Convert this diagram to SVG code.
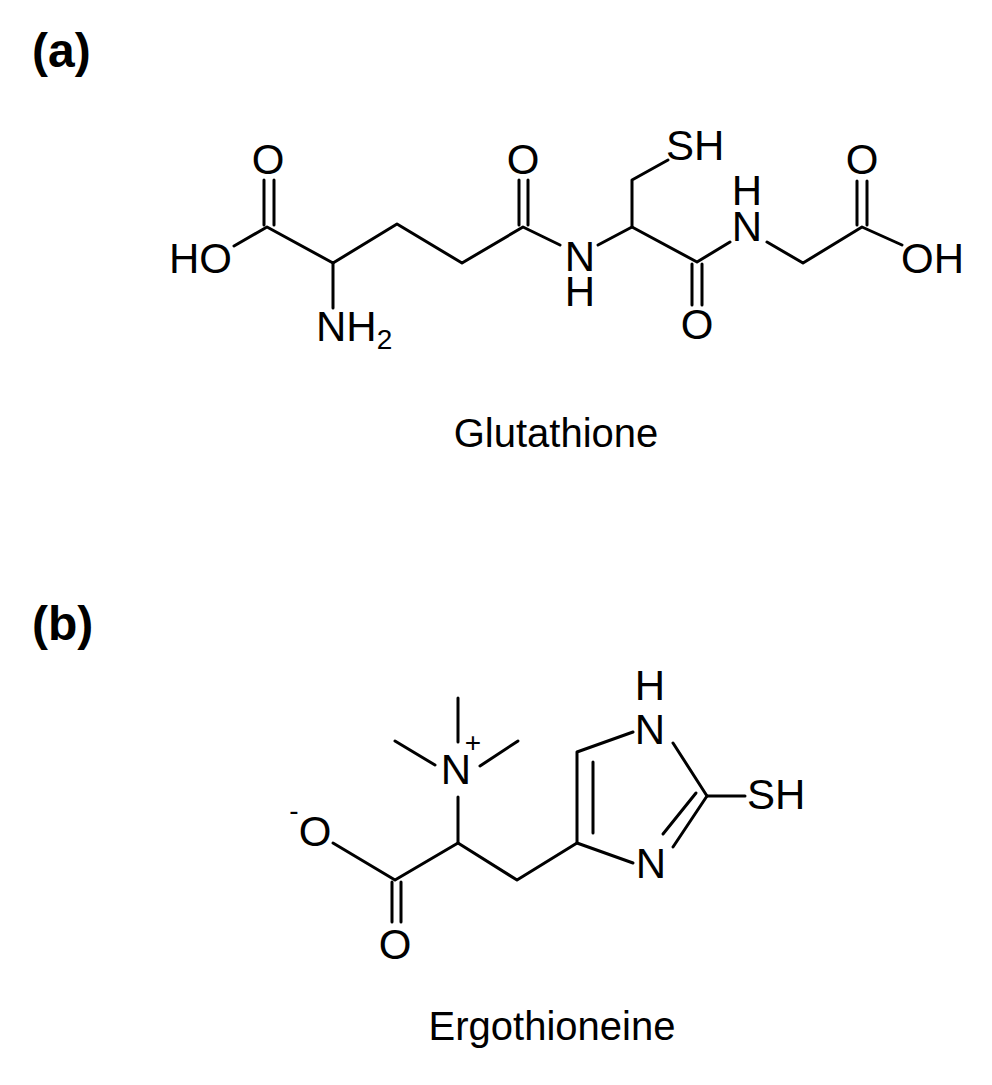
<svg xmlns="http://www.w3.org/2000/svg" width="992" height="1085" viewBox="0 0 992 1085">
<style>
.b{stroke:#000;stroke-width:3;fill:none;stroke-linecap:round;stroke-linejoin:round}
text{font-family:"Liberation Sans",Arial,sans-serif;fill:#000}
.a{font-size:42px}
.s{font-size:28px}
.t{font-size:48px;font-weight:bold}
.n{font-size:40px}
</style>
<rect width="992" height="1085" fill="#fff"/>
<text class="t" x="32" y="67">(a)</text>
<text class="t" x="32" y="640">(b)</text>
<g id="glutathione">
<g id="bonds-a" class="b">
<polyline points="234,246 267,227 333,263 397,224 462,263 523,227 560,245"/>
<line x1="264" y1="180" x2="264" y2="225"/><line x1="274" y1="180" x2="274" y2="225"/>
<line x1="333" y1="263" x2="333" y2="308"/>
<line x1="519" y1="180" x2="519" y2="225"/><line x1="528" y1="180" x2="528" y2="225"/>
<polyline points="598,245 632,227 632,180 668,160"/>
<polyline points="632,227 697,262 730,242"/>
<line x1="692" y1="264" x2="692" y2="305"/><line x1="702" y1="264" x2="702" y2="305"/>
<polyline points="767,242 803,263 862,227 902,245"/>
<line x1="857" y1="181" x2="857" y2="225"/><line x1="867" y1="181" x2="867" y2="225"/>
</g>
<text class="a" x="268" y="174" text-anchor="middle">O</text>
<text class="a" x="169" y="273">HO</text>
<text class="a" x="316" y="341">NH<tspan class="s" dy="8">2</tspan></text>
<text class="a" x="523" y="174" text-anchor="middle">O</text>
<text class="a" x="580" y="271" text-anchor="middle">N</text>
<text class="a" x="580" y="306" text-anchor="middle">H</text>
<text class="a" x="666" y="160">SH</text>
<text class="a" x="697" y="339" text-anchor="middle">O</text>
<text class="a" x="747" y="205" text-anchor="middle">H</text>
<text class="a" x="747" y="241" text-anchor="middle">N</text>
<text class="a" x="862" y="174" text-anchor="middle">O</text>
<text class="a" x="901" y="273">OH</text>
<text class="n" x="556" y="447" text-anchor="middle">Glutathione</text>
</g>
<g id="ergothioneine">
<g id="bonds-b" class="b">
<line x1="458" y1="698" x2="458" y2="742"/>
<line x1="395" y1="741" x2="435" y2="765"/>
<line x1="480" y1="766" x2="518" y2="741"/>
<polyline points="458,797 458,843 395,880 333,843"/>
<line x1="392" y1="882" x2="392" y2="922"/><line x1="401" y1="882" x2="401" y2="922"/>
<polyline points="458,843 517,880 577,843 577,752 633,732"/>
<line x1="593" y1="762" x2="593" y2="833"/>
<polyline points="673,743 707,796 673,847"/>
<line x1="663" y1="834" x2="696" y2="793"/>
<line x1="707" y1="796" x2="745" y2="796"/>
<line x1="633" y1="863" x2="577" y2="843"/>
</g>
<text class="a" x="456" y="784" text-anchor="middle">N</text>
<text class="s" x="473" y="752" text-anchor="middle">+</text>
<text class="s" x="294" y="820" text-anchor="middle">-</text>
<text class="a" x="315" y="846" text-anchor="middle">O</text>
<text class="a" x="395" y="959" text-anchor="middle">O</text>
<text class="a" x="650" y="700" text-anchor="middle">H</text>
<text class="a" x="650" y="744" text-anchor="middle">N</text>
<text class="a" x="651" y="878" text-anchor="middle">N</text>
<text class="a" x="747" y="809">SH</text>
<text class="n" x="552" y="1040" text-anchor="middle">Ergothioneine</text>
</g>
</svg>
